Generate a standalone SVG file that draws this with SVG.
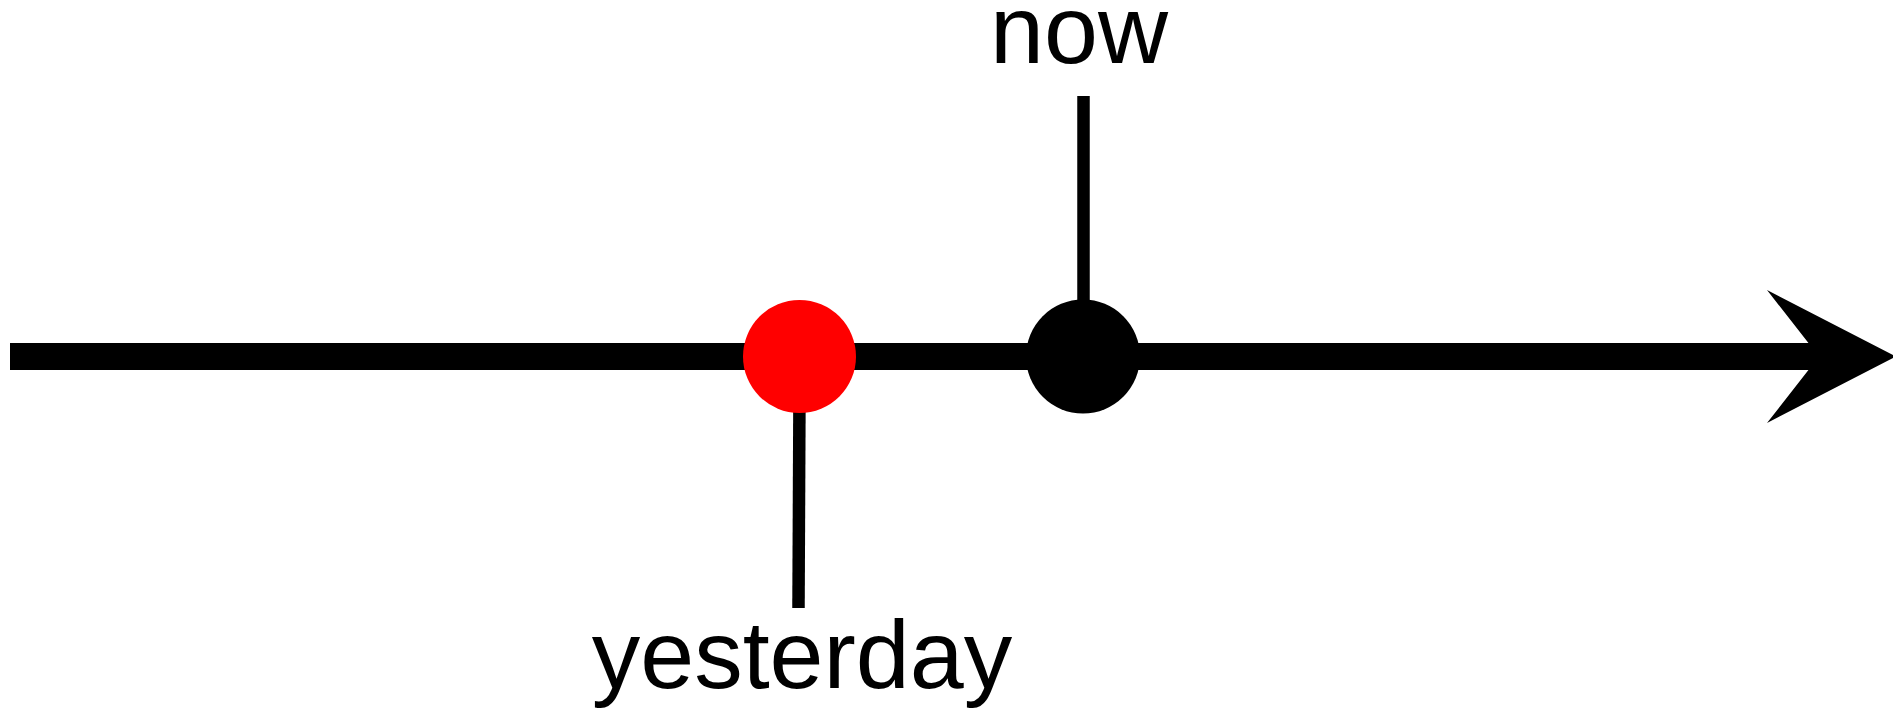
<svg xmlns="http://www.w3.org/2000/svg" width="1893" height="709" viewBox="0 0 1893 709">
<style>
.lbl{font-family:"Liberation Sans",Arial,sans-serif;font-size:97px;fill:#000;text-anchor:middle}
.conn{stroke:#000;fill:none}
</style>
<rect width="1893" height="709" fill="#fff"/>
<g id="connectors">
<line class="conn" x1="10" y1="356.5" x2="1822" y2="356.5" stroke-width="27"/>
<polygon points="1767,290 1896,356.5 1767,423 1819,356.5" fill="#000"/>
<line class="conn" x1="1083.5" y1="96" x2="1083.5" y2="330" stroke-width="12.5"/>
<line class="conn" x1="799.5" y1="390" x2="798.5" y2="608" stroke-width="12.5"/>
</g>
<g id="node-yesterday">
<circle cx="799.5" cy="356.5" r="56.5" fill="#ff0000"/>
<text class="lbl" x="802" y="688">yesterday</text>
</g>
<g id="node-now">
<circle cx="1083" cy="356.5" r="57" fill="#000"/>
<text class="lbl" x="1079" y="63">now</text>
</g>
</svg>
